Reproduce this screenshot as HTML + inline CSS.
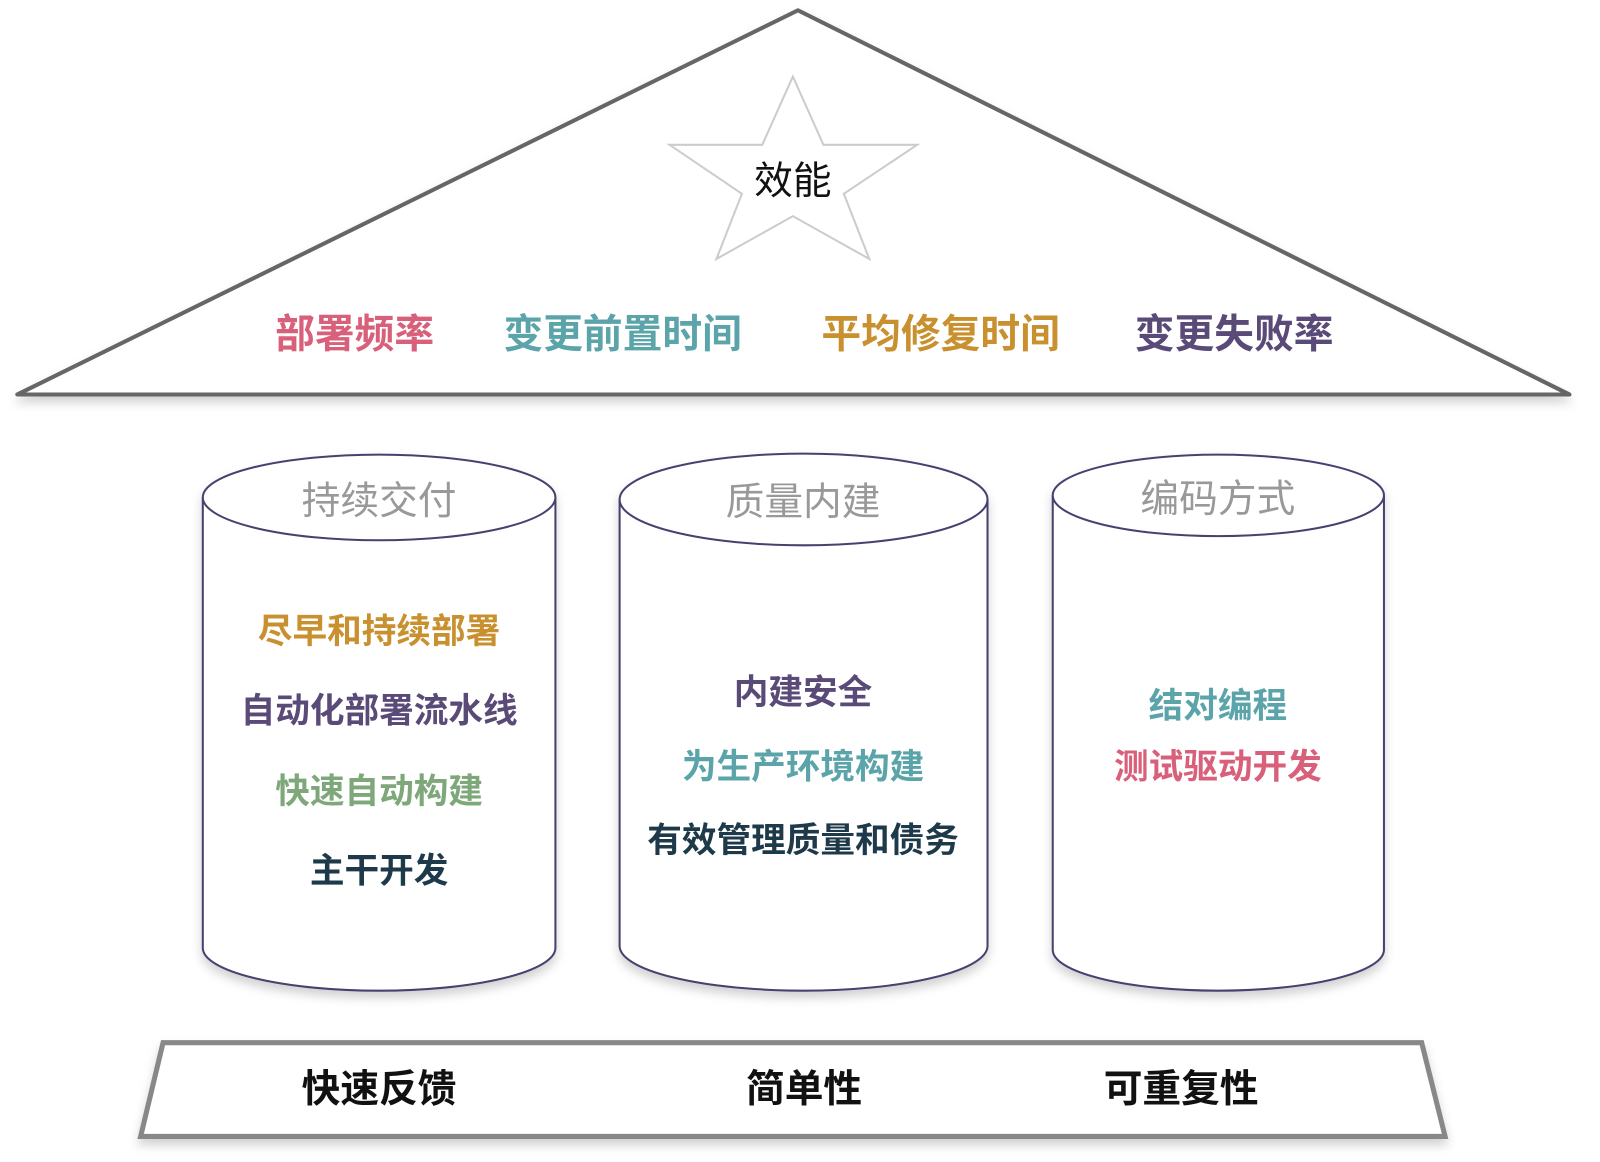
<!DOCTYPE html>
<html><head><meta charset="utf-8"><style>
html,body{margin:0;padding:0;background:#fff}
svg{display:block}
text{font-family:"Liberation Sans","Noto Sans CJK SC",sans-serif;text-anchor:middle;dominant-baseline:central}
</style></head><body>
<svg width="1600" height="1162" viewBox="0 0 1570 1140">
<defs><filter id="sh" x="-10%" y="-10%" width="120%" height="130%"><feDropShadow dx="0" dy="6" stdDeviation="5" flood-color="#000" flood-opacity="0.18"/></filter></defs>
<g>
<polygon points="783,10 17,387 1540,387" fill="#fff" stroke="#666" stroke-width="4" stroke-linejoin="round" filter="url(#sh)"/>
<polygon points="778,75 808,142 900,142 828,190 853,254 778,212 703,254 728,190 657,142 748,142" fill="#fff" stroke="#ccc" stroke-width="2"/>
<text x="778" y="178" font-size="38" fill="#111">效能</text>
<text x="348" y="328" font-size="39" font-weight="bold" fill="#d9607a">部署频率</text>
<text x="611" y="328" font-size="39" font-weight="bold" fill="#5ba4aa">变更前置时间</text>
<text x="923" y="328" font-size="39" font-weight="bold" fill="#c8902e">平均修复时间</text>
<text x="1211" y="328" font-size="39" font-weight="bold" fill="#5a4a78">变更失败率</text>
</g>
<g filter="url(#sh)">
<path d="M199,488 L199,930 A173,42 0 0 0 545,930 L545,488" fill="#fff" stroke="#4a4070" stroke-width="2"/>
<ellipse cx="372" cy="488" rx="173" ry="42" fill="#fff" stroke="#4a4070" stroke-width="2"/>
</g>
<text x="372" y="492" font-size="38" fill="#999">持续交付</text>
<text x="372" y="620" font-size="34" font-weight="bold" fill="#c8902e">尽早和持续部署</text>
<text x="372" y="698" font-size="34" font-weight="bold" fill="#5a4a78">自动化部署流水线</text>
<text x="372" y="777" font-size="34" font-weight="bold" fill="#7fa87a">快速自动构建</text>
<text x="372" y="855" font-size="34" font-weight="bold" fill="#1e3a4a">主干开发</text>
<g filter="url(#sh)">
<path d="M608,490 L608,928 A180.5,44 0 0 0 969,928 L969,490" fill="#fff" stroke="#4a4070" stroke-width="2"/>
<ellipse cx="788.5" cy="490" rx="180.5" ry="45" fill="#fff" stroke="#4a4070" stroke-width="2"/>
</g>
<text x="788" y="493" font-size="38" fill="#999">质量内建</text>
<text x="788" y="680" font-size="34" font-weight="bold" fill="#5a4a78">内建安全</text>
<text x="788" y="753" font-size="34" font-weight="bold" fill="#5ba4aa">为生产环境构建</text>
<text x="788" y="825" font-size="34" font-weight="bold" fill="#1e3a4a">有效管理质量和债务</text>
<g filter="url(#sh)">
<path d="M1033,486 L1033,932 A162.5,40 0 0 0 1358,932 L1358,486" fill="#fff" stroke="#4a4070" stroke-width="2"/>
<ellipse cx="1195.5" cy="486" rx="162.5" ry="40" fill="#fff" stroke="#4a4070" stroke-width="2"/>
</g>
<text x="1195" y="490" font-size="38" fill="#999">编码方式</text>
<text x="1195" y="693" font-size="34" font-weight="bold" fill="#5ba4aa">结对编程</text>
<text x="1195" y="753" font-size="34" font-weight="bold" fill="#d9607a">测试驱动开发</text>
<g>
<polygon points="160,1023 1395,1023 1418,1115 138,1115" fill="#fff" stroke="#888" stroke-width="5" filter="url(#sh)"/>
<text x="372" y="1069" font-size="38" font-weight="bold" fill="#111">快速反馈</text>
<text x="789" y="1069" font-size="38" font-weight="bold" fill="#111">简单性</text>
<text x="1159" y="1069" font-size="38" font-weight="bold" fill="#111">可重复性</text>
</g>
</svg>
</body></html>
